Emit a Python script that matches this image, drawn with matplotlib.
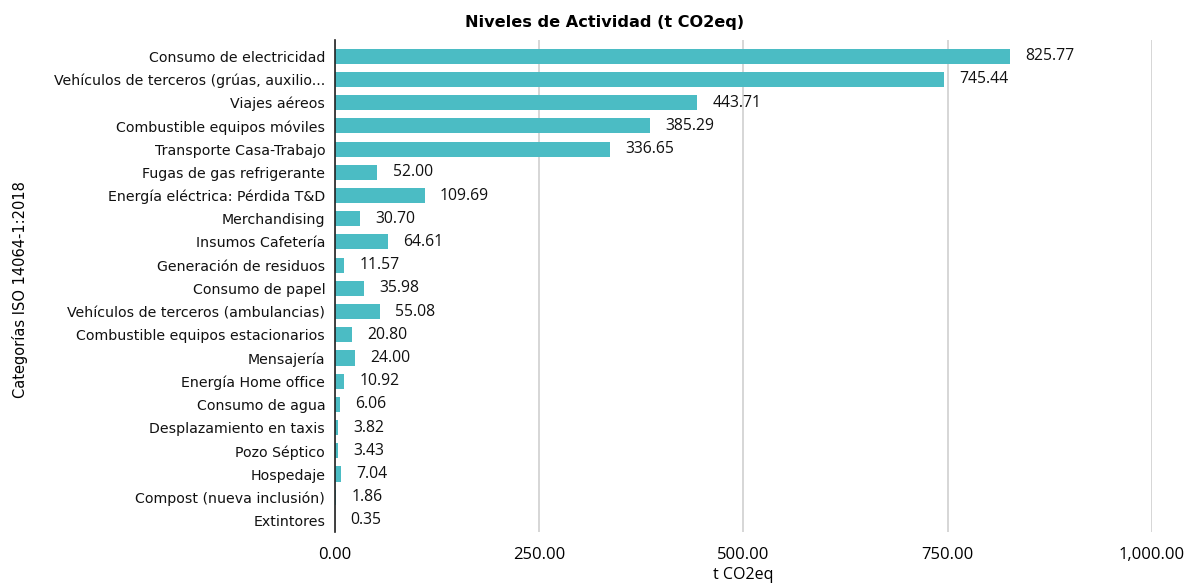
import matplotlib.pyplot as plt
from matplotlib.ticker import FuncFormatter

categorias = [
    "Consumo de electricidad",
    "Vehículos de terceros (grúas, auxilio...",
    "Viajes aéreos",
    "Combustible equipos móviles",
    "Transporte Casa-Trabajo",
    "Fugas de gas refrigerante",
    "Energía eléctrica: Pérdida T&D",
    "Merchandising",
    "Insumos Cafetería",
    "Generación de residuos",
    "Consumo de papel",
    "Vehículos de terceros (ambulancias)",
    "Combustible equipos estacionarios",
    "Mensajería",
    "Energía Home office",
    "Consumo de agua",
    "Desplazamiento en taxis",
    "Pozo Séptico",
    "Hospedaje",
    "Compost (nueva inclusión)",
    "Extintores",
]
valores = [825.77, 745.44, 443.71, 385.29, 336.65, 52.00, 109.69, 30.70, 64.61,
           11.57, 35.98, 55.08, 20.80, 24.00, 10.92, 6.06, 3.82, 3.43, 7.04,
           1.86, 0.35]
ticks_x = [0, 250, 500, 750, 1000]

color_barra = "#4BBCC4"

fig = plt.figure(figsize=(11.84, 5.84), dpi=100)
ax = fig.add_axes([0.2829, 0.089, 0.690, 0.8425])

pos = list(range(len(categorias)))
ax.barh(pos, valores, height=0.65, color=color_barra, zorder=3)
ax.set_yticks(pos)
ax.set_yticklabels(categorias, fontsize=10.2, family="DejaVu Sans", color="#111111")
ax.set_ylim(len(categorias) - 0.5, -0.7)
ax.set_xlim(0, 1000)
ax.set_xticks(ticks_x)
ax.xaxis.set_major_formatter(FuncFormatter(lambda v, p: f"{v:,.2f}"))
for t in ax.get_xticklabels():
    t.set_fontfamily("Open Sans")
    t.set_fontsize(12)

ax.tick_params(axis="both", length=0)
ax.tick_params(axis="x", pad=11)
ax.tick_params(axis="y", pad=7)
ax.grid(axis="x", color="#d0d0d0", linewidth=1.2, zorder=0)
for s in ["top", "right", "bottom"]:
    ax.spines[s].set_visible(False)
ax.spines["left"].set_color("#222222")
ax.spines["left"].set_linewidth(1.2)
ax.spines["left"].set_zorder(4)

#--etiquetas de valor
for y, v in zip(pos, valores):
    ax.annotate(f"{v:.2f}", (v, y), xytext=(11, 0), textcoords="offset points",
                va="center", ha="left", fontsize=11.3, family="Open Sans", color="#111111")

ax.set_xlabel("t CO2eq", fontsize=11.5, family="Open Sans", labelpad=3)
fig.text(0.017, 0.505, "Categorías ISO 14064-1:2018", rotation=90, va="center",
         ha="center", fontsize=10.5, family="DejaVu Sans")
fig.text(0.511, 0.962, "Niveles de Actividad (t CO2eq)", ha="center", va="center",
         fontsize=11.6, fontweight="bold", family="DejaVu Sans")

fig.savefig("out.png", dpi=100)
